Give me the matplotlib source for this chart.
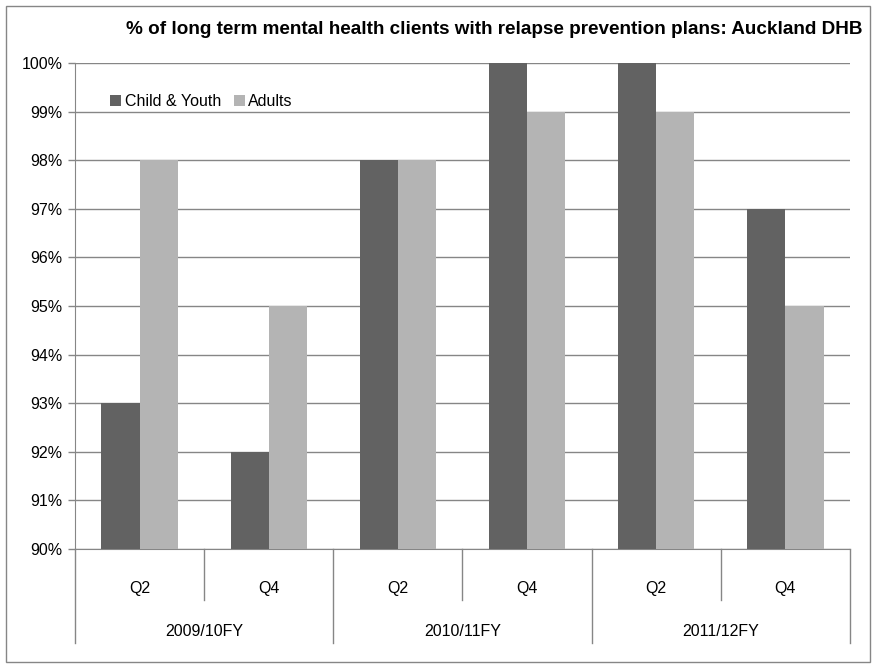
import matplotlib.pyplot as plt
import numpy as np
from matplotlib.patches import Rectangle
from matplotlib.ticker import FuncFormatter

# data
years = ["2009/10FY", "2010/11FY", "2011/12FY"]
quarters = ["Q2", "Q4", "Q2", "Q4", "Q2", "Q4"]
child_youth = [93, 92, 98, 100, 100, 97]
adults = [98, 95, 98, 99, 99, 95]

plt.rcParams["font.family"] = ["Liberation Sans", "DejaVu Sans"]

fig = plt.figure(figsize=(8.76, 6.69), dpi=100)
ax = fig.add_axes([75 / 876, 1 - 549 / 669, 775 / 876, 486 / 669])

x = np.arange(len(quarters))
w = 0.295
ax.bar(x - w / 2, child_youth, w, color="#626262", label="Child & Youth", zorder=3)
ax.bar(x + w / 2, adults, w, color="#b4b4b4", label="Adults", zorder=3)

ax.set_xlim(-0.5, len(quarters) - 0.5)
ax.set_ylim(90, 100)
ax.set_yticks(range(90, 101))
ax.yaxis.set_major_formatter(FuncFormatter(lambda v, p: f"{v:.0f}%"))
ax.tick_params(axis="y", length=5, width=1, color="#868686", labelsize=11.5, pad=4)
ax.set_xticks([])
ax.grid(axis="y", color="#868686", linewidth=1, zorder=0)
for s in ["top", "right"]:
    ax.spines[s].set_visible(False)
for s in ["left", "bottom"]:
    ax.spines[s].set_color("#868686")

# two-level category axis
trans = ax.get_xaxis_transform()
q_bottom = -51 / 486
g_bottom = -94 / 486
for i, q in enumerate(quarters):
    ax.text(i, -39 / 486, q, transform=trans, ha="center", va="center", fontsize=11.5)
for b in [0.5, 2.5, 4.5]:
    ax.plot([b, b], [0, q_bottom], transform=trans, color="#868686", lw=1, clip_on=False)
for b in [-0.5, 1.5, 3.5, 5.5]:
    ax.plot([b, b], [0, g_bottom], transform=trans, color="#868686", lw=1, clip_on=False)
for j, yr in enumerate(years):
    ax.text(2 * j + 0.5, -83 / 486, yr, transform=trans, ha="center", va="center", fontsize=11.5)

leg = ax.legend(loc="upper left", bbox_to_anchor=(0.027, 0.965), ncol=2, frameon=False,
                fontsize=11.5, handlelength=0.7, handleheight=0.7, handletextpad=0.2,
                columnspacing=0.8)

fig.text(494 / 876, 1 - 30 / 669, "% of long term mental health clients with relapse prevention plans: Auckland DHB",
         ha="center", va="center", fontsize=13.6, fontweight="bold")

fig.patches.append(Rectangle((6 / 876, 7 / 669), 864 / 876, 656 / 669, transform=fig.transFigure,
                             fill=False, edgecolor="#868686", lw=1))

fig.savefig("out.png", dpi=100)
